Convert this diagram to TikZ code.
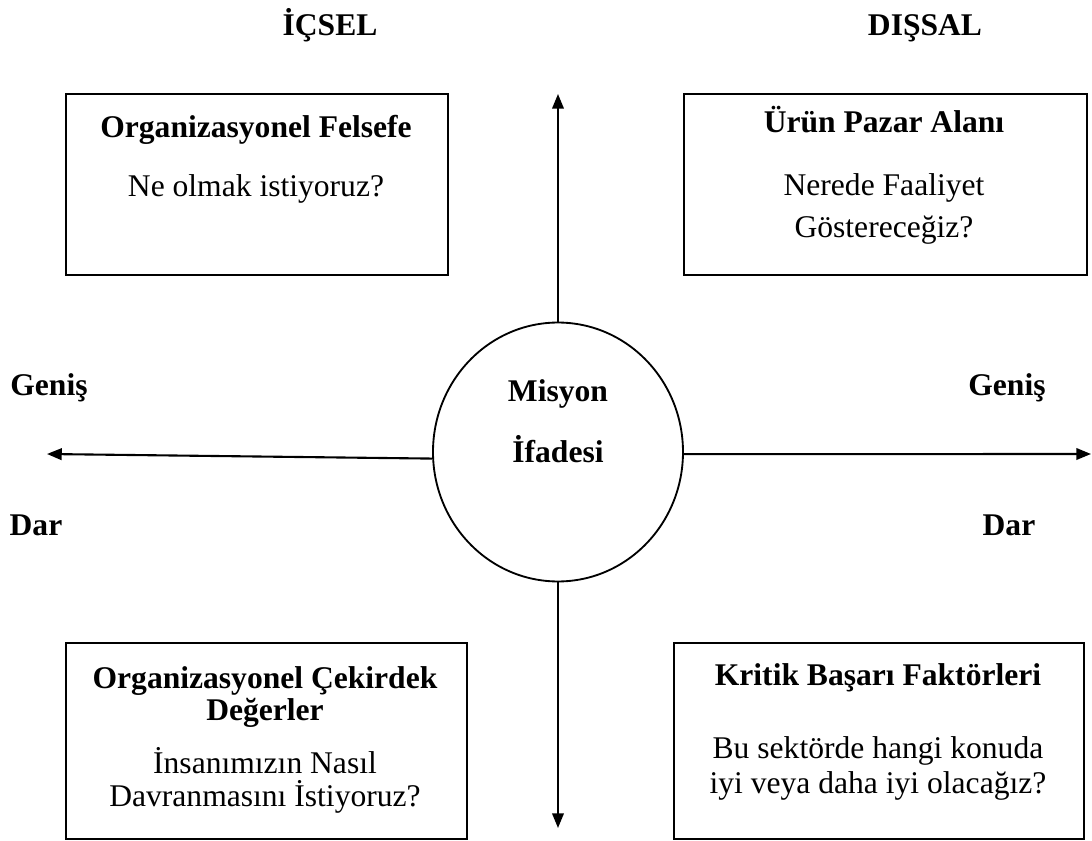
\documentclass[tikz,border=0pt]{standalone}
\usepackage{fontspec}
\setmainfont{Liberation Serif}
\usetikzlibrary{arrows.meta,shapes.geometric}
\lineskiplimit=-20pt

\begin{document}
\begin{tikzpicture}[
  x=0.38pt, y=-0.38pt,
  font=\fontsize{12}{14}\selectfont,
  frame/.style 2 args={draw, line width=0.8pt, anchor=north west, inner sep=0pt,
    minimum width=#1*0.38pt, minimum height=#2*0.38pt},
  head/.style={font=\fontsize{12}{#1}\selectfont\bfseries, anchor=base, align=center, inner sep=0pt},
  head/.default=14pt,
  body/.style={font=\fontsize{12}{#1}\selectfont, anchor=base, align=center, inner sep=0pt},
  body/.default=14pt,
  axis/.style={line width=0.8pt, -{Triangle[length=5.6pt, width=4.4pt]}}
]
  \useasboundingbox (0,0) rectangle (1092,841);
  % column headings and side labels
  \node[head] (icsel) at (330,36) {İÇSEL};
  \node[head] (dissal) at (925,36) {DIŞSAL};
  \node[head] (genisl) at (49,395) {Geniş};
  \node[head] (genisr) at (1007,395) {Geniş};
  \node[head] (darl) at (36,536) {Dar};
  \node[head] (darr) at (1009,536) {Dar};

  % the four quadrant boxes (multi-line texts sit on their last baseline)
  \node[frame={382}{181}] (felsefe) at (65,93) {};
  \node[head] (felsefeT) at (256,137) {Organizasyonel Felsefe};
  \node[body] (felsefeB) at (256,197) {Ne olmak istiyoruz?};

  \node[frame={403}{181}] (pazar) at (683,93) {};
  \node[head] (pazarT) at (884,132) {Ürün Pazar Alanı};
  \node[body=15.6pt] (pazarB) at (884,237) {Nerede Faaliyet\\Göstereceğiz?};

  \node[frame={401}{196}] (degerler) at (65,642) {};
  \node[head=12.2pt] (degerlerT) at (265,721) {Organizasyonel Çekirdek\\Değerler};
  \node[body=12.5pt] (degerlerB) at (265,806) {İnsanımızın Nasıl\\Davranmasını İstiyoruz?};

  \node[frame={410}{196}] (basari) at (673,642) {};
  \node[head] (basariT) at (878,685) {Kritik Başarı Faktörleri};
  \node[body=13.3pt] (basariB) at (878,793) {Bu sektörde hangi konuda\\iyi veya daha iyi olacağız?};

  % mission in the middle
  \node[draw, ellipse, line width=0.7pt, inner sep=0pt,
    minimum width=95pt, minimum height=98.4pt] (misyon) at (558,452) {};
  \node[head=23.2pt] (misyonT) at (558,463) {Misyon\\İfadesi};

  \coordinate (upEnd) at (558,94);
  \coordinate (downEnd) at (558,828);
  \coordinate (leftEnd) at (47,454);
  \coordinate (rightEnd) at (1091,454);
  \draw[axis] (misyon.north) -- (upEnd);
  \draw[axis] (misyon.south) -- (downEnd);
  \draw[axis] (misyon.183) -- (leftEnd);
  \draw[axis] (misyon.-1) -- (rightEnd);
\end{tikzpicture}
\end{document}
